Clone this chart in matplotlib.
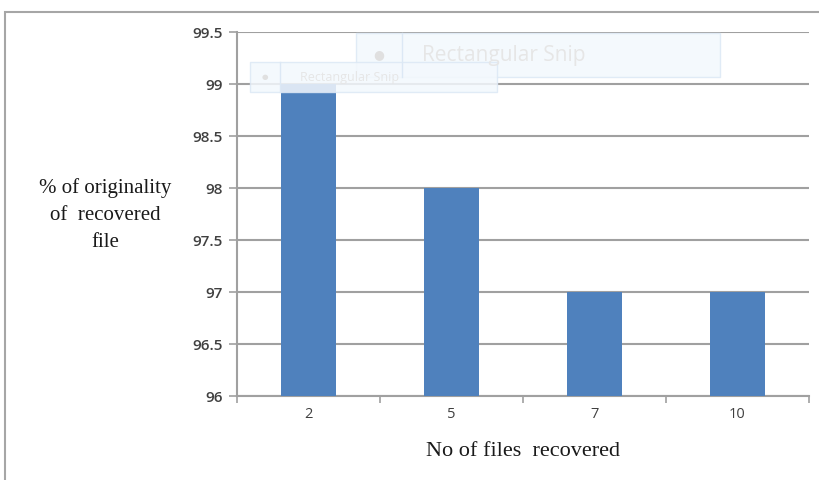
import matplotlib.pyplot as plt
from matplotlib.patches import Rectangle

files = ['2', '5', '7', '10']
originality = [99, 98, 97, 97]
yticks = [96, 96.5, 97, 97.5, 98, 98.5, 99, 99.5]

fig = plt.figure(figsize=(8.2, 4.8), dpi=100)
fig.patch.set_facecolor('white')

# outer chart frame (runs off the right and bottom edges)
fig.patches.append(Rectangle((5/820, -0.2), 2.0, 1.2 - 12/480, transform=fig.transFigure,
                             fill=False, edgecolor='#a6a6a6', linewidth=1.5))

ax = fig.add_axes([237/820, 1 - 396/480, 572/820, 364/480])
x = range(len(files))
ax.bar(x, originality, width=0.39, color='#4f81bd', zorder=3)
ax.set_xlim(-0.5, len(files) - 0.5)
ax.set_ylim(96, 99.5)
ax.set_yticks(yticks)
ax.set_yticklabels(['%g' % v for v in yticks], family='Open Sans', fontsize=11,
                   color='#404040', fontweight='semibold')
ax.set_xticks(list(x))
ax.set_xticklabels(files, family='Open Sans', fontsize=10.5, color='#404040')
ax.tick_params(axis='x', length=0, pad=8)
ax.set_xticks([i - 0.5 for i in range(len(files) + 1)], minor=True)
ax.tick_params(axis='x', which='minor', length=5, color='#a0a0a0', width=1.2)
ax.tick_params(axis='y', length=6, color='#a0a0a0', width=1.2, pad=4)
ax.grid(axis='y', color='#a0a0a0', linewidth=1.5, zorder=0)
for s in ['top', 'right']:
    ax.spines[s].set_visible(False)
for s in ['left', 'bottom']:
    ax.spines[s].set_color('#a0a0a0')
    ax.spines[s].set_linewidth(1.5)

ax.set_xlabel('No of files  recovered', family='Liberation Serif', fontsize=16,
              color='#1a1a1a', labelpad=14)
fig.text(105/820, 1 - 215/480, '% of originality\nof  recovered\nfile', ha='center',
         va='center', family='Liberation Serif', fontsize=15, color='#1a1a1a',
         linespacing=1.55)

# faded snipping-tool overlays
for (x0, y0, w, h, sep, fs) in [(356, 33, 364, 44, 402, 15), (250, 62, 247, 30, 280, 9)]:
    fig.patches.append(Rectangle((x0/820, 1 - (y0 + h)/480), w/820, h/480,
                                 transform=fig.transFigure, facecolor='#f3f8fd',
                                 edgecolor='#dce8f5', linewidth=1, alpha=0.85, zorder=5))
    fig.lines.append(plt.Line2D([sep/820, sep/820], [1 - (y0 + h)/480, 1 - y0/480],
                                transform=fig.transFigure, color='#dce8f5', lw=1, zorder=6))
    fig.text((x0 + (sep - x0)/2)/820, 1 - (y0 + h/2)/480, '\u25cf', ha='center',
             va='center', fontsize=fs*0.6, color='#e0e0e0', zorder=7)
    fig.text((sep + 20)/820, 1 - (y0 + h/2)/480, 'Rectangular Snip', ha='left',
             va='center', family='Open Sans', fontsize=fs, color='#e6e6e6', zorder=7)

fig.savefig('out.png', dpi=100)
